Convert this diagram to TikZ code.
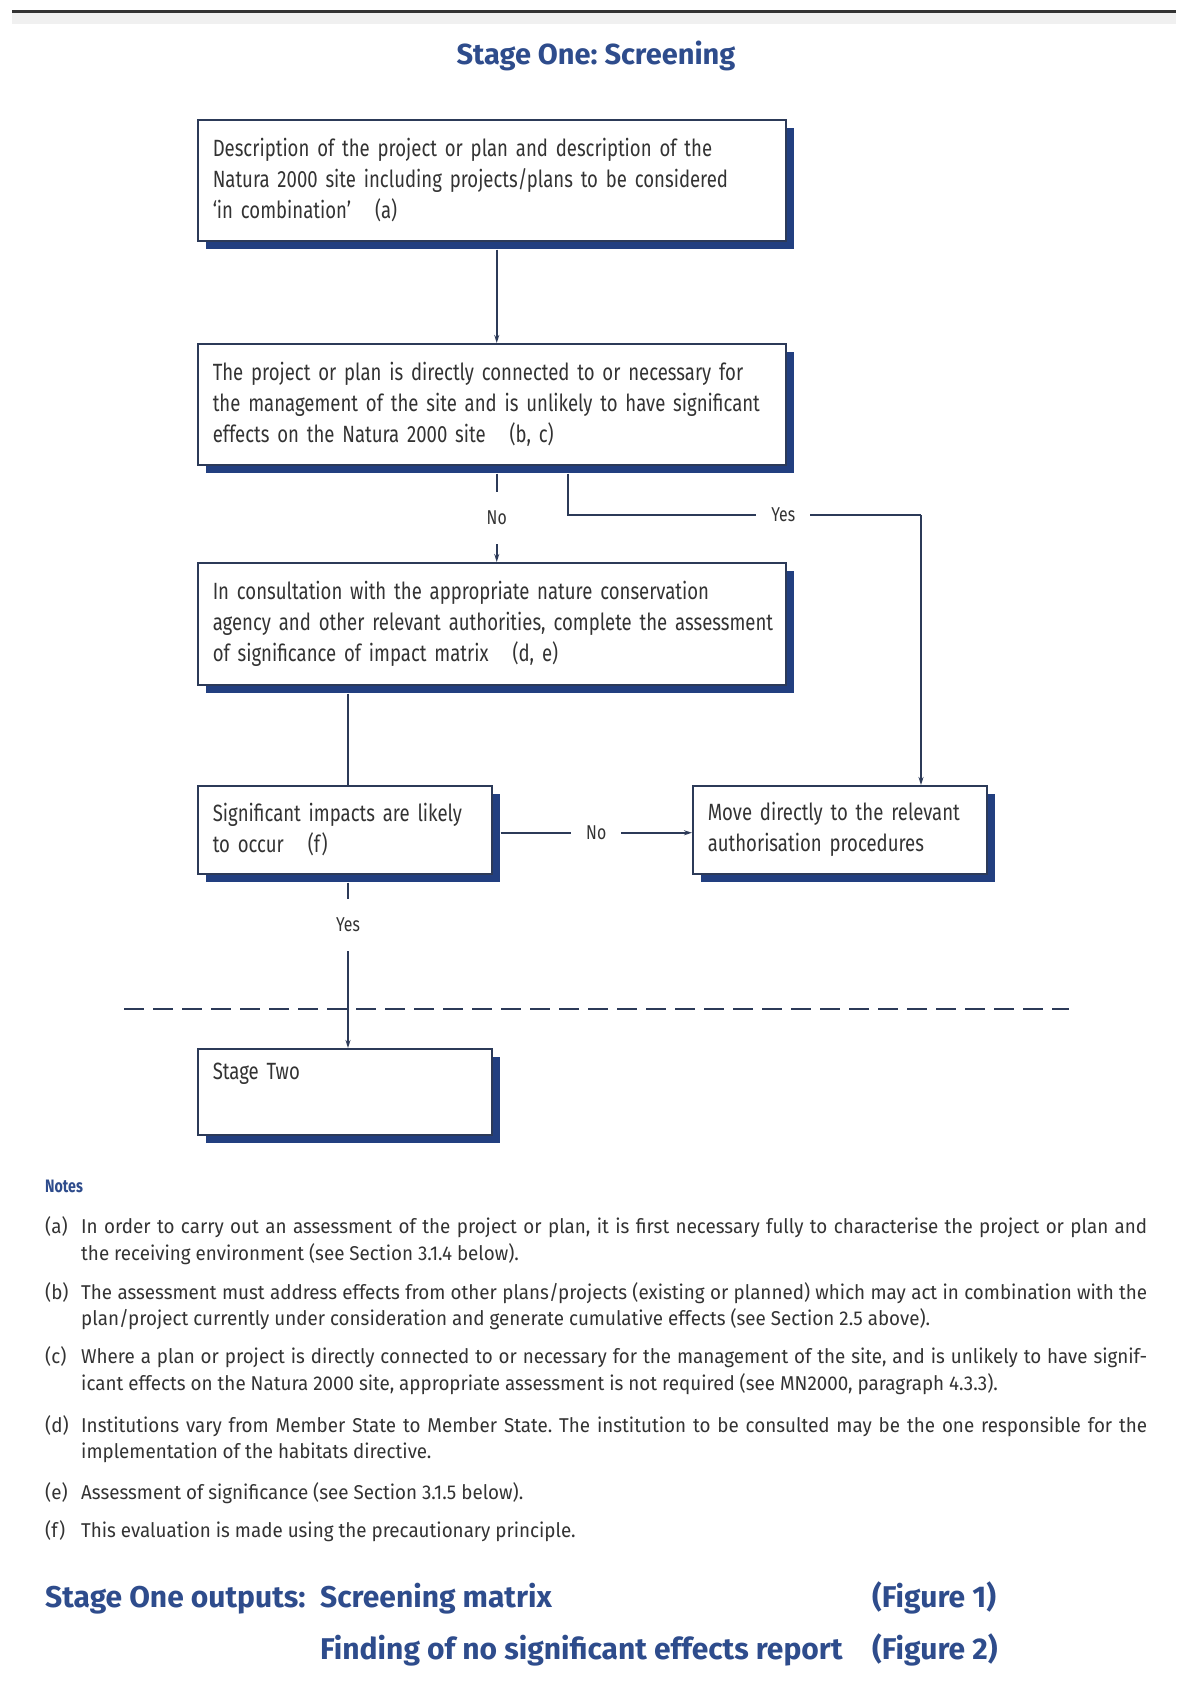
\documentclass[tikz,border=0pt]{standalone}
\usepackage{fontspec}
\setmainfont{Fira Sans}[FakeStretch=0.79]
\newfontfamily\notefont{Fira Sans}[FakeStretch=0.94]
\newfontfamily\headfont{Fira Sans}
\usetikzlibrary{shadows,calc,arrows.meta}
\definecolor{navy}{HTML}{223F80}
\definecolor{ttl}{HTML}{2E4C8C}
\definecolor{txt}{HTML}{333333}
\definecolor{lnc}{HTML}{2C3A58}
\newcommand\bxl[1]{\mbox{#1}}
\frenchspacing
\begin{document}
\begin{tikzpicture}[x=1pt,y=1pt,
  box/.style={draw=lnc, line width=1.5pt, fill=white, anchor=north west, inner xsep=15pt,
    align=left, text=txt, font=\fontsize{23.5}{31}\selectfont,
    drop shadow={shadow xshift=8pt, shadow yshift=-8pt, fill=navy, opacity=1}},
  conn/.style={draw=lnc, line width=1.6pt},
  arr/.style={-{Stealth[length=8pt,width=5pt]}},
  vlab/.style={fill=white, text=txt, inner xsep=3pt, inner ysep=19pt, font=\fontsize{20}{24}\selectfont},
  hlab/.style={fill=white, text=txt, inner xsep=15pt, inner ysep=3pt, font=\fontsize{20}{24}\selectfont},
  bigt/.style={text=ttl, font=\headfont\fontsize{30}{34}\selectfont\bfseries, inner sep=0pt},
  nt/.style={text=txt, font=\notefont\fontsize{20}{26}\selectfont, inner sep=0pt, anchor=base west},
]
\useasboundingbox (0,0) rectangle (1176,-1694);
\fill[white] (0,0) rectangle (1176,-1694);
% top rule
\fill[gray!12] (12,-13) rectangle (1176,-24);
\coordinate (tl) at (12,-12);
\coordinate (tr) at (1176,-12);
\draw[line width=3pt, draw=txt] (tl) -- (tr);
% title
\node[bigt, font=\headfont\fontsize{29}{34}\selectfont\bfseries] (title) at (596,-56) {Stage One: Screening};
% boxes
\node[box, text width=558pt, minimum height=121pt] (b1) at (197,-119)
 {\bxl{Description of the project or plan and description of the}\\
  \bxl{Natura 2000 site including projects/plans to be considered}\\
  \bxl{‘in combination’\hspace{24pt}(a)}};
\node[box, text width=558pt, minimum height=121pt] (b2) at (197,-343)
 {\bxl{The project or plan is directly connected to or necessary for}\\
  \bxl{the management of the site and is unlikely to have significant}\\
  \bxl{effects on the Natura 2000 site\hspace{24pt}(b, c)}};
\node[box, text width=558pt, minimum height=122pt] (b3) at (197,-562)
 {\bxl{In consultation with the appropriate nature conservation}\\
  \bxl{agency and other relevant authorities, complete the assessment}\\
  \bxl{of significance of impact matrix\hspace{24pt}(d, e)}};
\node[box, text width=264pt, minimum height=88pt] (b4) at (197,-785)
 {\bxl{Significant impacts are likely}\\
  \bxl{to occur\hspace{24pt}(f)}};
\node[box, text width=264pt, minimum height=88pt] (b5) at (692,-785)
 {\bxl{Move directly to the relevant}\\
  \bxl{authorisation procedures}};
\node[box, text width=264pt, minimum height=86pt] (b6) at (197,-1048)
 {\bxl{Stage Two}\\ \strut};
% connectors
\draw[conn,arr] ($(b1.south)+(5,-8)$) -- ($(b2.north)+(5,0)$);
\draw[conn,arr] ($(b2.south)+(5,-8)$) -- node[vlab]{No} ($(b3.north)+(5,0)$);
\coordinate (yc) at ($(b5.north west)+(229,270)$);
\draw[conn] ($(b2.south west)+(371,-8)$) |- node[hlab,pos=0.805]{Yes} (yc);
\draw[conn,arr] (yc) -- ($(b5.north west)+(229,0)$);
\draw[conn] ($(b3.south west)+(151,-8)$) -- ($(b4.north west)+(151,0)$);
\draw[conn,arr] ($(b4.east)+(8,-3)$) -- node[hlab]{No} ($(b5.west)+(0,-3)$);
\coordinate (dl) at (124,-1009);
\coordinate (dr) at (1069,-1009);
\draw[conn, dash pattern=on 20pt off 9pt] (dl) -- (dr);
\draw[conn,arr] ($(b4.south west)+(151,-8)$) -- node[vlab,pos=0.257]{Yes} ($(b6.north west)+(151,0)$);
% notes
\node[text=ttl, font=\fontsize{18}{22}\selectfont\bfseries, inner sep=0pt, anchor=base west] (notes) at (45,-1192) {Notes};
\node[nt] (la) at (45,-1233) {(a)};
\node[nt] (a1) at (81,-1233) {\makebox[1066pt][s]{In order to carry out an assessment of the project or plan, it is first necessary fully to characterise the project or plan and}};
\node[nt] (a2) at (81,-1260) {the receiving environment (see Section 3.1.4 below).};
\node[nt] (lb) at (45,-1299) {(b)};
\node[nt] (b1t) at (81,-1299) {\makebox[1066pt][s]{The assessment must address effects from other plans/projects (existing or planned) which may act in combination with the}};
\node[nt] (b2t) at (81,-1325) {plan/project currently under consideration and generate cumulative effects (see Section 2.5 above).};
\node[nt] (lc) at (45,-1363) {(c)};
\node[nt] (c1) at (81,-1363) {\makebox[1066pt][s]{Where a plan or project is directly connected to or necessary for the management of the site, and is unlikely to have signif-}};
\node[nt] (c2) at (81,-1390) {icant effects on the Natura 2000 site, appropriate assessment is not required (see MN2000, paragraph 4.3.3).};
\node[nt] (ld) at (45,-1432) {(d)};
\node[nt] (d1) at (81,-1432) {\makebox[1066pt][s]{Institutions vary from Member State to Member State. The institution to be consulted may be the one responsible for the}};
\node[nt] (d2) at (81,-1458) {implementation of the habitats directive.};
\node[nt] (le) at (45,-1499) {(e)};
\node[nt] (e1) at (81,-1499) {Assessment of significance (see Section 3.1.5 below).};
\node[nt] (lf) at (45,-1537) {(f)};
\node[nt] (f1) at (81,-1537) {This evaluation is made using the precautionary principle.};
% outputs
\node[bigt, anchor=base west] (o1) at (45,-1607) {Stage One outputs:};
\node[bigt, anchor=base west] (o2) at (320,-1607) {Screening matrix};
\node[bigt, anchor=base west] (o3) at (872,-1607) {(Figure 1)};
\node[bigt, anchor=base west] (o4) at (320,-1659) {Finding of no significant effects report};
\node[bigt, anchor=base west] (o5) at (872,-1659) {(Figure 2)};
\end{tikzpicture}
\end{document}
